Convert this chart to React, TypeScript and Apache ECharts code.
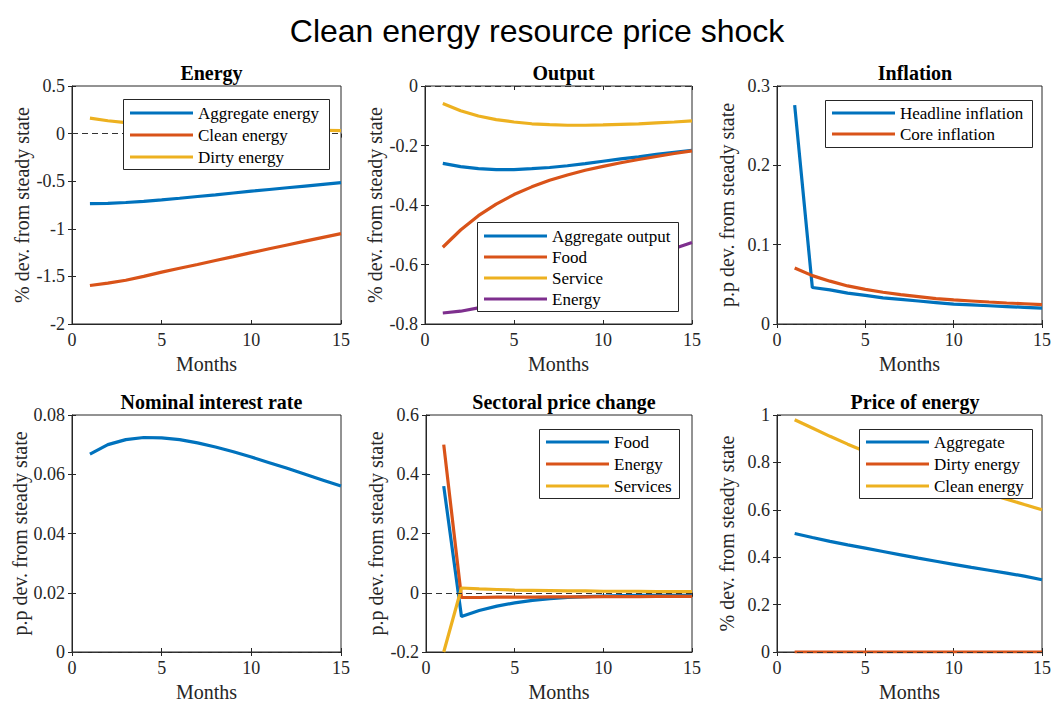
import React, { useEffect, useRef } from "react";
import * as echarts from "echarts";

const MONTHS = [1, 2, 3, 4, 5, 6, 7, 8, 9, 10, 11, 12, 13, 14, 15];

// Panel 1: Energy
const ENERGY_AGG = [-0.736, -0.733, -0.724, -0.711, -0.696, -0.679, -0.661, -0.643, -0.624, -0.605, -0.587, -0.569, -0.551, -0.533, -0.515];
const ENERGY_CLEAN = [-1.596, -1.57, -1.54, -1.5, -1.455, -1.415, -1.375, -1.333, -1.292, -1.25, -1.21, -1.17, -1.13, -1.09, -1.05];
const ENERGY_DIRTY = [0.162, 0.135, 0.115, 0.1, 0.088, 0.078, 0.07, 0.063, 0.057, 0.052, 0.047, 0.043, 0.039, 0.035, 0.031];

// Panel 2: Output
const OUT_AGG = [-0.26, -0.271, -0.278, -0.281, -0.281, -0.278, -0.274, -0.268, -0.261, -0.253, -0.245, -0.238, -0.23, -0.223, -0.216];
const OUT_FOOD = [-0.542, -0.484, -0.436, -0.397, -0.365, -0.339, -0.317, -0.299, -0.283, -0.27, -0.258, -0.247, -0.237, -0.227, -0.218];
const OUT_SERVICE = [-0.059, -0.083, -0.101, -0.113, -0.121, -0.127, -0.13, -0.132, -0.132, -0.131, -0.129, -0.127, -0.124, -0.121, -0.117];
const OUT_ENERGY = [-0.763, -0.757, -0.746, -0.732, -0.716, -0.699, -0.681, -0.662, -0.643, -0.624, -0.605, -0.586, -0.566, -0.546, -0.526];

// Panel 3: Inflation
const INF_HEADLINE = [0.276, 0.046, 0.043, 0.039, 0.036, 0.033, 0.031, 0.029, 0.027, 0.025, 0.024, 0.023, 0.022, 0.021, 0.02];
const INF_CORE = [0.0707, 0.061, 0.054, 0.048, 0.0437, 0.04, 0.037, 0.0345, 0.032, 0.0303, 0.029, 0.0277, 0.0265, 0.0255, 0.0244];

// Panel 4: Nominal interest rate
const RATE = [0.0668, 0.07, 0.0717, 0.0724, 0.0723, 0.0717, 0.0706, 0.0692, 0.0676, 0.0658, 0.0639, 0.062, 0.06, 0.058, 0.056];

// Panel 5: Sectoral price change
const SEC_FOOD = [0.36, -0.08, -0.06, -0.045, -0.034, -0.026, -0.02, -0.016, -0.013, -0.011, -0.01, -0.009, -0.009, -0.009, -0.009];
const SEC_ENERGY = [0.5, -0.016, -0.016, -0.015, -0.015, -0.015, -0.014, -0.014, -0.014, -0.013, -0.013, -0.013, -0.012, -0.012, -0.012];
const SEC_SERVICES = [-0.2, 0.016, 0.013, 0.011, 0.009, 0.008, 0.007, 0.006, 0.006, 0.005, 0.005, 0.005, 0.004, 0.004, 0.004];

// Panel 6: Price of energy
const PRICE_AGG = [0.5, 0.483, 0.467, 0.452, 0.438, 0.424, 0.41, 0.396, 0.383, 0.37, 0.357, 0.345, 0.333, 0.32, 0.305];
const PRICE_DIRTY = [0, 0, 0, 0, 0, 0, 0, 0, 0, 0, 0, 0, 0, 0, 0];
const PRICE_CLEAN = [0.98, 0.945, 0.91, 0.877, 0.846, 0.816, 0.788, 0.761, 0.736, 0.712, 0.689, 0.667, 0.645, 0.622, 0.6];

const MAIN_TITLE = "Clean energy resource price shock";
const PANEL_TITLES = ["Energy", "Output", "Inflation", "Nominal interest rate", "Sectoral price change", "Price of energy"];
const Y_NAMES = [
  "% dev. from steady state",
  "% dev. from steady state",
  "p.p dev. from steady state",
  "p.p dev. from steady state",
  "p.p dev. from steady state",
  "% dev. from steady state",
];
const X_NAME = "Months";
const Y_RANGES = [
  [-2, 0.5, 0.5],
  [-0.8, 0, 0.2],
  [0, 0.3, 0.1],
  [0, 0.08, 0.02],
  [-0.2, 0.6, 0.2],
  [0, 1, 0.2],
];

const BLUE = "#0072BD";
const RED = "#D95319";
const YELLOW = "#EDB120";
const PURPLE = "#7E2F8E";

const SERIES = [
  [
    { name: "Aggregate energy", data: ENERGY_AGG, color: BLUE },
    { name: "Clean energy", data: ENERGY_CLEAN, color: RED },
    { name: "Dirty energy", data: ENERGY_DIRTY, color: YELLOW },
  ],
  [
    { name: "Aggregate output", data: OUT_AGG, color: BLUE },
    { name: "Food", data: OUT_FOOD, color: RED },
    { name: "Service", data: OUT_SERVICE, color: YELLOW },
    { name: "Energy", data: OUT_ENERGY, color: PURPLE },
  ],
  [
    { name: "Headline inflation", data: INF_HEADLINE, color: BLUE },
    { name: "Core inflation", data: INF_CORE, color: RED },
  ],
  [{ name: "Nominal interest rate", data: RATE, color: BLUE }],
  [
    { name: "Food", data: SEC_FOOD, color: BLUE },
    { name: "Energy", data: SEC_ENERGY, color: RED },
    { name: "Services", data: SEC_SERVICES, color: YELLOW },
  ],
  [
    { name: "Aggregate", data: PRICE_AGG, color: BLUE },
    { name: "Dirty energy", data: PRICE_DIRTY, color: RED },
    { name: "Clean energy", data: PRICE_CLEAN, color: YELLOW },
  ],
];

// layout
const GRIDS = [
  { left: 72, top: 86, width: 269, height: 238 },
  { left: 425, top: 86, width: 267, height: 238 },
  { left: 777, top: 86, width: 266, height: 238 },
  { left: 72, top: 415, width: 269, height: 237 },
  { left: 426, top: 415, width: 266, height: 237 },
  { left: 777, top: 415, width: 266, height: 237 },
];
const LEGENDS = [
  { panel: 0, x: 123, y: 99, w: 206, h: 70, row0: 113, step: 22 },
  { panel: 1, x: 477, y: 222, w: 201, h: 89, row0: 236, step: 21 },
  { panel: 2, x: 825, y: 100, w: 207, h: 47, row0: 113, step: 21 },
  { panel: 4, x: 539, y: 429, w: 140, h: 69, row0: 442, step: 22 },
  { panel: 5, x: 859, y: 429, w: 173, h: 69, row0: 442, step: 22 },
];

const SERIF = "Liberation Serif";
const AXIS_COLOR = "#262626";

function buildOption() {
  const grid: any[] = [];
  const xAxis: any[] = [];
  const yAxis: any[] = [];
  const series: any[] = [];
  const title: any[] = [
    {
      text: MAIN_TITLE,
      left: 532,
      top: 10,
      textAlign: "center",
      textStyle: { fontFamily: "Liberation Sans", fontSize: 32, fontWeight: "normal", color: "#000" },
    },
  ];

  GRIDS.forEach((g, i) => {
    grid.push({ ...g, show: true, borderColor: AXIS_COLOR, borderWidth: 1, backgroundColor: "#fff" });
    title.push({
      text: PANEL_TITLES[i],
      left: g.left + g.width / 2,
      top: g.top - 28,
      textAlign: "center",
      textStyle: { fontFamily: SERIF, fontSize: 20, fontWeight: "bold", color: "#000" },
    });
    const tick = { show: true, inside: true, length: 4, lineStyle: { color: AXIS_COLOR, width: 1 } };
    xAxis.push({
      gridIndex: i,
      type: "value",
      min: 0,
      max: 15,
      interval: 5,
      name: X_NAME,
      nameLocation: "middle",
      nameGap: 30,
      nameTextStyle: { fontFamily: SERIF, fontSize: 20, color: AXIS_COLOR },
      axisLine: { show: true, onZero: false, lineStyle: { color: AXIS_COLOR, width: 1 } },
      axisTick: tick,
      axisLabel: { fontFamily: SERIF, fontSize: 18, color: AXIS_COLOR, margin: 7 },
      splitLine: { show: false },
    });
    xAxis.push({
      gridIndex: i,
      type: "value",
      position: "top",
      min: 0,
      max: 15,
      interval: 5,
      axisLine: { show: false },
      axisTick: tick,
      axisLabel: { show: false },
      splitLine: { show: false },
    });
    const [mn, mx, iv] = Y_RANGES[i];
    yAxis.push({
      gridIndex: i,
      type: "value",
      min: mn,
      max: mx,
      interval: iv,
      name: Y_NAMES[i],
      nameLocation: "middle",
      nameRotate: 90,
      nameGap: 40,
      nameTextStyle: { fontFamily: SERIF, fontSize: 20, color: AXIS_COLOR },
      axisLine: { show: true, onZero: false, lineStyle: { color: AXIS_COLOR, width: 1 } },
      axisTick: tick,
      axisLabel: { fontFamily: SERIF, fontSize: 18, color: AXIS_COLOR, margin: 7 },
      splitLine: { show: false },
    });
    yAxis.push({
      gridIndex: i,
      type: "value",
      position: "right",
      min: mn,
      max: mx,
      interval: iv,
      axisLine: { show: false },
      axisTick: tick,
      axisLabel: { show: false },
      splitLine: { show: false },
    });

    const list = SERIES[i];
    list.forEach((s, k) => {
      const item: any = {
        type: "line",
        name: s.name,
        xAxisIndex: 2 * i,
        yAxisIndex: 2 * i,
        data: MONTHS.map((m, j) => [m, s.data[j]]),
        symbol: "none",
        lineStyle: { color: s.color, width: 3.2 },
        itemStyle: { color: s.color },
        clip: true,
      };
      if (k === list.length - 1) {
        item.markLine = {
          silent: true,
          symbol: "none",
          label: { show: false },
          lineStyle: { color: "#333", type: [6, 4], width: 1 },
          data: [{ yAxis: 0 }],
        };
      }
      series.push(item);
    });
  });

  const graphic: any[] = [];
  LEGENDS.forEach((lg) => {
    graphic.push({
      type: "rect",
      z: 100,
      shape: { x: lg.x + 0.5, y: lg.y + 0.5, width: lg.w, height: lg.h },
      style: { fill: "#fff", stroke: AXIS_COLOR, lineWidth: 1 },
    });
    SERIES[lg.panel].forEach((s, k) => {
      const y = lg.row0 + k * lg.step;
      graphic.push({
        type: "line",
        z: 101,
        shape: { x1: lg.x + 7, y1: y, x2: lg.x + 70, y2: y },
        style: { stroke: s.color, lineWidth: 3.2 },
      });
      graphic.push({
        type: "text",
        z: 101,
        x: lg.x + 75,
        y: y,
        style: {
          text: s.name,
          fontFamily: SERIF,
          fontSize: 17,
          fill: "#000",
          verticalAlign: "middle",
        },
      });
    });
  });

  return {
    animation: false,
    backgroundColor: "#fff",
    title,
    grid,
    xAxis,
    yAxis,
    series,
    graphic,
  };
}

export default function App() {
  const ref = useRef<HTMLDivElement>(null);
  useEffect(() => {
    if (!ref.current) return;
    const chart = echarts.init(ref.current, undefined, { renderer: "svg" });
    chart.setOption(buildOption());
    return () => chart.dispose();
  }, []);
  return (
    <div
      ref={ref}
      style={{ position: "fixed", left: 0, top: 0, width: 1054, height: 703, background: "#fff" }}
    />
  );
}
